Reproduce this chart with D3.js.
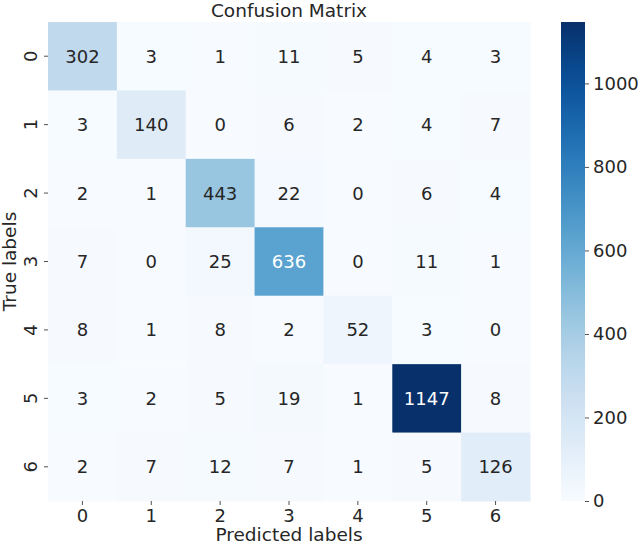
<!DOCTYPE html>
<html>
<head>
<meta charset="utf-8">
<script src="https://cdn.jsdelivr.net/npm/d3@7"></script>
<style>
  html, body { margin: 0; padding: 0; background: #fff; }
  svg { display: block; }
  text { font-family: "DejaVu Sans", sans-serif; }
</style>
</head>
<body>
<svg id="chart" width="642" height="545"></svg>
<script>
const predictedLabels = ["0", "1", "2", "3", "4", "5", "6"];
const trueLabels = ["0", "1", "2", "3", "4", "5", "6"];
const row0 = [302, 3, 1, 11, 5, 4, 3];
const row1 = [3, 140, 0, 6, 2, 4, 7];
const row2 = [2, 1, 443, 22, 0, 6, 4];
const row3 = [7, 0, 25, 636, 0, 11, 1];
const row4 = [8, 1, 8, 2, 52, 3, 0];
const row5 = [3, 2, 5, 19, 1, 1147, 8];
const row6 = [2, 7, 12, 7, 1, 5, 126];
const matrix = [row0, row1, row2, row3, row4, row5, row6];
const colorbarTicks = [0, 200, 400, 600, 800, 1000];
const titleText = "Confusion Matrix";
const xLabelText = "Predicted labels";
const yLabelText = "True labels";

(function () {
const svg = d3.select("#chart");
const pLeft = 48, pRight = 530, pTop = 22, pBottom = 501;
const textColor = "#262626";
const fs = 18;

const x = d3.scaleBand().domain(predictedLabels).range([pLeft, pRight]);
const y = d3.scaleBand().domain(trueLabels).range([pTop, pBottom]);
const vmax = d3.max(matrix.flat());
const color = d3.scaleSequential(d3.interpolateBlues).domain([0, vmax]);

const cells = [];
matrix.forEach((row, i) => row.forEach((v, j) => cells.push({r: trueLabels[i], c: predictedLabels[j], v})));

function lum(c) {
  const rgb = d3.rgb(c);
  const f = u => { u /= 255; return u <= 0.03928 ? u / 12.92 : Math.pow((u + 0.055) / 1.055, 2.4); };
  return 0.2126 * f(rgb.r) + 0.7152 * f(rgb.g) + 0.0722 * f(rgb.b);
}

svg.append("g").selectAll("rect").data(cells).join("rect")
  .attr("x", d => x(d.c)).attr("y", d => y(d.r))
  .attr("width", x.bandwidth() + 0.5).attr("height", y.bandwidth() + 0.5)
  .attr("fill", d => color(d.v));

svg.append("g").selectAll("text").data(cells).join("text")
  .attr("x", d => x(d.c) + x.bandwidth() / 2)
  .attr("y", d => y(d.r) + y.bandwidth() / 2)
  .attr("text-anchor", "middle").attr("dominant-baseline", "central")
  .attr("font-size", fs)
  .attr("fill", d => lum(color(d.v)) > 0.408 ? textColor : "#ffffff")
  .text(d => d.v);

// x axis
const xAxis = svg.append("g").attr("transform", `translate(0,${pBottom})`)
  .call(d3.axisBottom(x).tickSize(4).tickPadding(4));
xAxis.select(".domain").remove();
xAxis.selectAll("line").attr("stroke", textColor).attr("stroke-width", 0.8);
xAxis.selectAll("text").attr("font-size", fs).attr("fill", textColor).attr("font-family", "DejaVu Sans");

// y axis
const yAxis = svg.append("g").attr("transform", `translate(${pLeft},0)`)
  .call(d3.axisLeft(y).tickSize(4).tickPadding(4));
yAxis.select(".domain").remove();
yAxis.selectAll("line").attr("stroke", textColor).attr("stroke-width", 0.8);
yAxis.selectAll("text").attr("font-size", fs).attr("fill", textColor).attr("font-family", "DejaVu Sans")
  .attr("text-anchor", "middle")
  .attr("x", null).attr("y", null).attr("dy", null)
  .attr("dominant-baseline", "central")
  .attr("transform", "translate(-18,0) rotate(-90)");

// colorbar
const cbX = 561, cbW = 24;
const cy = d3.scaleLinear().domain([0, vmax]).range([pBottom, pTop]);
const defs = svg.append("defs");
const grad = defs.append("linearGradient").attr("id", "cbgrad")
  .attr("x1", 0).attr("y1", 1).attr("x2", 0).attr("y2", 0);
d3.range(0, 1.0001, 0.05).forEach(t => {
  grad.append("stop").attr("offset", t).attr("stop-color", color(t * vmax));
});
svg.append("rect").attr("x", cbX).attr("y", pTop).attr("width", cbW).attr("height", pBottom - pTop)
  .attr("fill", "url(#cbgrad)");
const cAxis = svg.append("g").attr("transform", `translate(${cbX + cbW},0)`)
  .call(d3.axisRight(cy).tickValues(colorbarTicks).tickFormat(d3.format("d")).tickSize(4).tickPadding(4));
cAxis.select(".domain").remove();
cAxis.selectAll("line").attr("stroke", textColor).attr("stroke-width", 0.8);
cAxis.selectAll("text").attr("font-size", fs).attr("fill", textColor).attr("font-family", "DejaVu Sans");

// title & labels
svg.append("text").attr("x", (pLeft + pRight) / 2).attr("y", 17)
  .attr("text-anchor", "middle").attr("font-size", 18.5).attr("fill", textColor).text(titleText);
svg.append("text").attr("x", (pLeft + pRight) / 2).attr("y", 541)
  .attr("text-anchor", "middle").attr("font-size", 18.5).attr("fill", textColor).text(xLabelText);
svg.append("text").attr("transform", `translate(16,${(pTop + pBottom) / 2}) rotate(-90)`)
  .attr("text-anchor", "middle").attr("font-size", 18.5).attr("fill", textColor).text(yLabelText);
})();
</script>
</body>
</html>
